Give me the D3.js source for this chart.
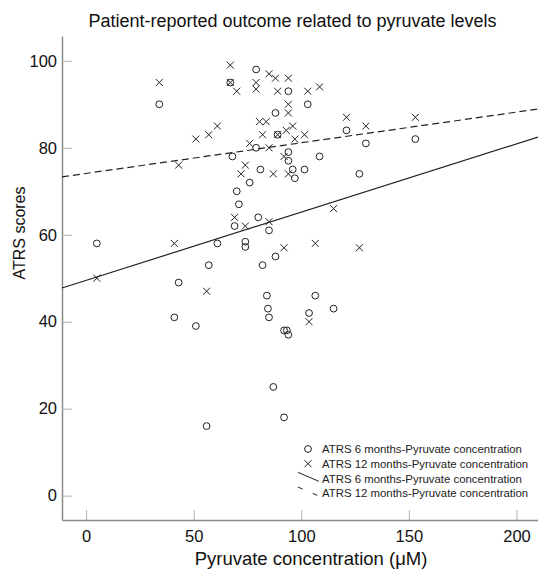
<!DOCTYPE html>
<html>
<head>
<meta charset="utf-8">
<script src="https://cdn.jsdelivr.net/npm/d3@7"></script>
<style>
    body { margin: 0; background: #fff; }
    svg { display: block; font-family: "Liberation Sans", Arial, sans-serif; }
    .axis path { stroke: #8a8a8a; stroke-width: 1.5; }
    .axis line { stroke: #b0b0b0; }
    .axis text { font-size: 16.5px; fill: #111; }
</style>
</head>
<body>
<div id="chart"></div>
<script>
// ATRS 6 months (circles)
const pyruvate6 = [5, 34, 41, 43, 51, 56, 57, 61, 67, 68, 69, 70, 71, 74, 74, 76,
    79, 79, 80, 81, 82, 84, 84.5, 85, 85, 87, 88, 88, 89, 92, 92, 93.3, 94, 94, 94, 94,
    96, 97, 101.5, 103, 103.6, 106.5, 108.5, 115, 121, 127, 130, 153];
const atrs6 = [58, 90, 41, 49, 39, 16, 53, 58, 95, 78, 62, 70, 67, 58.4, 57.2, 72,
    98, 80, 64, 75, 53, 46, 43, 61, 41, 25, 88, 55, 83, 18, 38, 38, 37, 93, 79, 77,
    75, 73, 75, 90, 42, 46, 78, 43, 84, 74, 81, 82];

// ATRS 12 months (crosses)
const pyruvate12 = [5, 34, 41, 43, 51, 56, 57, 61, 67, 67, 69, 70, 72, 74, 74, 76,
    79, 79, 80.6, 82, 83.7, 85, 85, 85, 87, 88, 89, 89, 92, 92, 93, 94, 94, 94, 94,
    96, 97, 101.5, 103, 103.6, 106.5, 108.5, 115, 121, 127, 130, 153];
const atrs12 = [50, 95, 58, 76, 82, 47, 83, 85, 99, 95, 64, 93, 74, 76, 62, 81,
    95, 93.5, 86, 83, 86, 97, 80, 63, 74, 96, 93, 83, 78, 57, 84, 96, 90, 88, 74,
    85, 82, 83, 93, 40, 58, 94, 66, 87, 57, 85, 87];

// linear fit lines: [6 months, 12 months]
const fitIntercepts = [49.5, 74.1];
const fitSlopes = [0.157, 0.0705];

const xTicks = [0, 50, 100, 150, 200];
const yTicks = [0, 20, 40, 60, 80, 100];

const legendLabels = [
    'ATRS 6 months-Pyruvate concentration',
    'ATRS 12 months-Pyruvate concentration',
    'ATRS 6 months-Pyruvate concentration',
    'ATRS 12 months-Pyruvate concentration'
];

const width = 538;
const height = 570;
const margin = { top: 36, right: 0, bottom: 50, left: 62 };

const svg = d3.select('#chart')
    .append('svg')
    .attr('width', width)
    .attr('height', height);

const x = d3.scaleLinear()
    .domain([-11.2, 210])
    .range([margin.left, width - margin.right]);

const y = d3.scaleLinear()
    .domain([-5.6, 105.7])
    .range([height - margin.bottom, margin.top]);

const ink = '#222';

// Axes (ticks point inward)
svg.append('g')
    .attr('class', 'axis')
    .attr('transform', `translate(0,${height - margin.bottom})`)
    .call(d3.axisBottom(x).tickValues(xTicks).tickSizeInner(-10).tickSizeOuter(0).tickPadding(10));

svg.append('g')
    .attr('class', 'axis')
    .attr('transform', `translate(${margin.left},0)`)
    .call(d3.axisLeft(y).tickValues(yTicks).tickSizeInner(-10).tickSizeOuter(0).tickPadding(5));

// Fit lines
const [x0, x1] = x.domain();
fitIntercepts.forEach((b, i) => {
    const m = fitSlopes[i];
    svg.append('line')
        .attr('x1', x(x0)).attr('y1', y(b + m * x0))
        .attr('x2', x(x1)).attr('y2', y(b + m * x1))
        .attr('stroke', ink)
        .attr('stroke-width', 1.2)
        .attr('stroke-dasharray', i === 1 ? '7,4' : null);
});

// Circles (6 months)
svg.append('g')
    .selectAll('circle')
    .data(d3.zip(pyruvate6, atrs6))
    .join('circle')
    .attr('cx', d => x(d[0]))
    .attr('cy', d => y(d[1]))
    .attr('r', 3.4)
    .attr('fill', 'none')
    .attr('stroke', ink)
    .attr('stroke-width', 1);

// Crosses (12 months)
const s = 3.5;
svg.append('g')
    .selectAll('path')
    .data(d3.zip(pyruvate12, atrs12))
    .join('path')
    .attr('d', d => {
        const cx = x(d[0]), cy = y(d[1]);
        return `M${cx - s},${cy - s}L${cx + s},${cy + s}M${cx - s},${cy + s}L${cx + s},${cy - s}`;
    })
    .attr('fill', 'none')
    .attr('stroke', ink)
    .attr('stroke-width', 1);

// Title and axis labels
svg.append('text')
    .attr('x', 292.5)
    .attr('y', 27)
    .attr('text-anchor', 'middle')
    .attr('font-size', '18px')
    .attr('fill', '#111')
    .text('Patient-reported outcome related to pyruvate levels');

svg.append('text')
    .attr('x', 311)
    .attr('y', 565)
    .attr('text-anchor', 'middle')
    .attr('font-size', '18.5px')
    .attr('fill', '#111')
    .text('Pyruvate concentration (μM)');

svg.append('text')
    .attr('transform', 'translate(25,233) rotate(-90)')
    .attr('text-anchor', 'middle')
    .attr('font-size', '16px')
    .attr('fill', '#111')
    .text('ATRS scores');

// Legend
const legend = svg.append('g').attr('transform', 'translate(308,449)');
const rowH = 14.7;
legendLabels.forEach((label, i) => {
    const g = legend.append('g').attr('transform', `translate(0,${i * rowH})`);
    if (i === 0) {
        g.append('circle').attr('r', 3.4).attr('fill', 'none').attr('stroke', ink);
    } else if (i === 1) {
        g.append('path')
            .attr('d', `M${-s},${-s}L${s},${s}M${-s},${s}L${s},${-s}`)
            .attr('stroke', ink);
    } else if (i === 2) {
        g.append('line')
            .attr('x1', -10).attr('y1', -6).attr('x2', 11).attr('y2', 3)
            .attr('stroke', ink);
    } else {
        g.append('line')
            .attr('x1', -10).attr('y1', -6).attr('x2', 11).attr('y2', 3)
            .attr('stroke', ink)
            .attr('stroke-dasharray', '5,11');
    }
    g.append('text')
        .attr('x', 14)
        .attr('y', 4.2)
        .attr('font-size', '11.4px')
        .attr('fill', ink)
        .text(label);
});
</script>
</body>
</html>
